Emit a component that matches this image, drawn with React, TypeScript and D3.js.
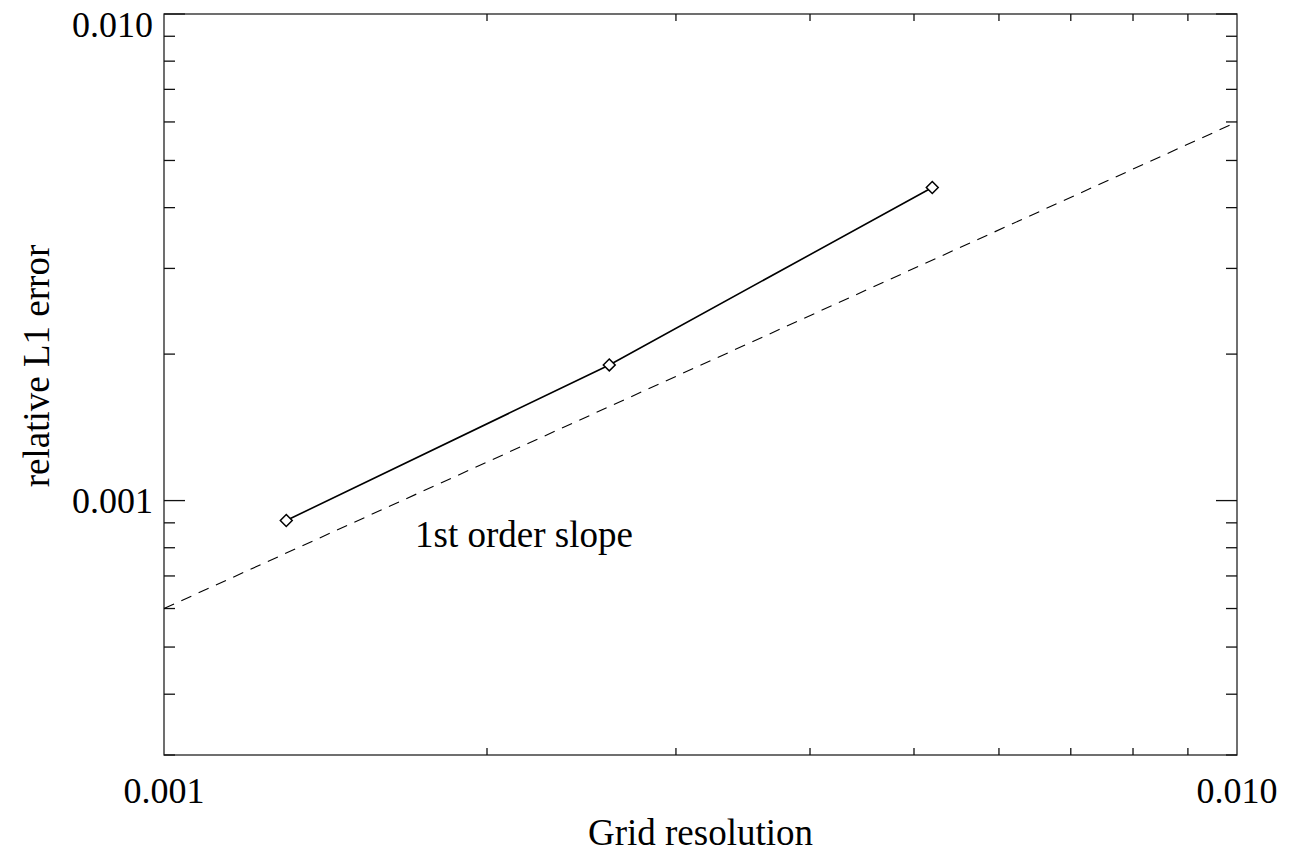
import { useEffect, useRef } from "react"
import * as d3 from "d3"

// measured points (grid spacing vs relative L1 error)
const resolution = [0.0013, 0.0026, 0.0052]
const l1Error = [0.00091, 0.0019, 0.0044]

// reference line with slope 1
const slopeX = [0.001, 0.01]
const slopeY = [0.0006, 0.006]

const xMajor = [0.001, 0.01]
const xMajorLabels = ["0.001", "0.010"]
const xMinor = [0.002, 0.003, 0.004, 0.005, 0.006, 0.007, 0.008, 0.009]
const yMajor = [0.001, 0.01]
const yMajorLabels = ["0.001", "0.010"]
const yMinor = [0.0003, 0.0004, 0.0005, 0.0006, 0.0007, 0.0008, 0.0009, 0.002, 0.003, 0.004, 0.005, 0.006, 0.007, 0.008, 0.009]

export default function App() {
  const svgRef = useRef<SVGSVGElement>(null)
  const width = 1296
  const height = 854
  const left = 164, right = 1237, top = 14, bottom = 755
  const font = "Liberation Serif, Times New Roman, Tinos, DejaVu Serif, serif"

  useEffect(() => {
    if (!svgRef.current) return
    const svg = d3.select(svgRef.current)
    svg.selectAll("*").remove()

    const x = d3.scaleLog().domain([0.001, 0.01]).range([left, right])
    const y = d3.scaleLog().domain([0.0003, 0.01]).range([bottom, top])

    svg.append("rect").attr("width", width).attr("height", height).attr("fill", "#fff")

    // frame
    svg.append("rect")
      .attr("x", left).attr("y", top)
      .attr("width", right - left).attr("height", bottom - top)
      .attr("fill", "none").attr("stroke", "#222").attr("stroke-width", 1.3)

    const ticks = svg.append("g").attr("stroke", "#111").attr("stroke-width", 1.3)

    // y ticks on both sides
    yMajor.forEach((v) => {
      ticks.append("line").attr("x1", left).attr("x2", left + 21).attr("y1", y(v)).attr("y2", y(v))
      ticks.append("line").attr("x1", right).attr("x2", right - 21).attr("y1", y(v)).attr("y2", y(v))
    })
    yMinor.forEach((v) => {
      ticks.append("line").attr("x1", left).attr("x2", left + 11).attr("y1", y(v)).attr("y2", y(v))
      ticks.append("line").attr("x1", right).attr("x2", right - 11).attr("y1", y(v)).attr("y2", y(v))
    })
    // x ticks top and bottom
    xMinor.forEach((v) => {
      ticks.append("line").attr("x1", x(v)).attr("x2", x(v)).attr("y1", bottom).attr("y2", bottom - 7)
      ticks.append("line").attr("x1", x(v)).attr("x2", x(v)).attr("y1", top).attr("y2", top + 7)
    })

    // tick labels
    xMajor.forEach((v, i) => {
      svg.append("text")
        .attr("x", x(v)).attr("y", 803)
        .attr("text-anchor", "middle")
        .attr("font-family", font).attr("font-size", 36)
        .text(xMajorLabels[i])
    })
    yMajor.forEach((v, i) => {
      const yy = Math.max(y(v), 24)
      svg.append("text")
        .attr("x", left - 11).attr("y", yy)
        .attr("dy", "0.35em")
        .attr("text-anchor", "end")
        .attr("font-family", font).attr("font-size", 36)
        .text(yMajorLabels[i])
    })

    // axis titles
    svg.append("text")
      .attr("x", (left + right) / 2).attr("y", 845)
      .attr("text-anchor", "middle")
      .attr("font-family", font).attr("font-size", 37)
      .text("Grid resolution")
    svg.append("text")
      .attr("transform", `translate(49, 366) rotate(-90)`)
      .attr("text-anchor", "middle")
      .attr("font-family", font).attr("font-size", 37)
      .text("relative L1 error")

    // dashed 1st order reference
    const refLine = d3.line<number>()
      .x((d) => x(d))
      .y((d, i) => y(slopeY[i]))
    svg.append("path")
      .datum(slopeX)
      .attr("d", refLine)
      .attr("fill", "none").attr("stroke", "#000")
      .attr("stroke-width", 1.1).attr("stroke-dasharray", "11 8")

    svg.append("text")
      .attr("x", 415).attr("y", 547)
      .attr("font-family", font).attr("font-size", 37)
      .text("1st order slope")

    // data line
    const dataLine = d3.line<number>()
      .x((d) => x(d))
      .y((d, i) => y(l1Error[i]))
    svg.append("path")
      .datum(resolution)
      .attr("d", dataLine)
      .attr("fill", "none").attr("stroke", "#000").attr("stroke-width", 1.6)

    const diamond = d3.symbol().type(d3.symbolDiamond2).size(90)
    svg.selectAll(".marker")
      .data(resolution)
      .join("path")
      .attr("class", "marker")
      .attr("transform", (d, i) => `translate(${x(d)}, ${y(l1Error[i])})`)
      .attr("d", diamond)
      .attr("fill", "#fff").attr("stroke", "#000").attr("stroke-width", 1.5)
  }, [])

  return (
    <svg
      ref={svgRef}
      width={width}
      height={height}
      style={{ position: "absolute", left: 0, top: 0, display: "block" }}
    />
  )
}
